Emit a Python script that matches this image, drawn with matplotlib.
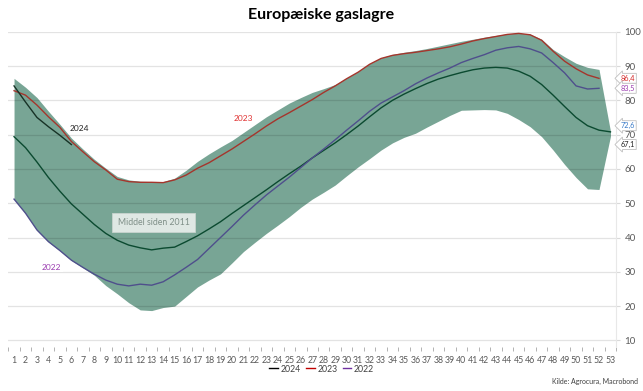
import numpy as np
import matplotlib
matplotlib.use("Agg")
import matplotlib.pyplot as plt

plt.rcParams['font.family'] = ['Lato', 'DejaVu Sans']

weeks = list(range(1, 54))

band_max = [86.4, 83.8, 80.8, 76.8, 73.0, 69.0, 65.8, 62.8, 60.2, 57.8,
            56.8, 56.4, 56.3, 56.3, 57.3, 59.6, 62.2, 64.4, 66.4, 68.3,
            70.6, 72.9, 75.2, 77.2, 79.2, 80.8, 82.3, 83.4, 84.6, 86.5,
            88.4, 90.7, 92.4, 93.4, 94.0, 94.5, 95.1, 95.8, 96.5, 97.2,
            97.8, 98.4, 98.9, 99.4, 99.6, 99.3, 97.8, 94.8, 92.7, 90.8,
            89.6, 89.0, 71.0]
band_min = [51.2, 47.0, 42.1, 38.7, 36.1, 33.3, 31.2, 29.0, 26.0, 23.6,
            21.0, 18.9, 18.7, 19.6, 20.0, 22.8, 25.6, 27.6, 29.4, 32.6,
            35.9, 38.6, 41.2, 43.6, 46.1, 48.8, 51.2, 53.2, 55.3, 58.0,
            60.6, 63.0, 65.5, 67.6, 69.2, 70.4, 72.2, 73.9, 75.6, 77.1,
            77.2, 77.3, 77.2, 76.2, 74.4, 72.3, 69.4, 65.5, 61.3, 57.5,
            54.2, 54.0, 69.5]
middel = [69.4, 66.2, 62.0, 57.5, 53.5, 49.8, 46.8, 43.8, 41.2, 39.2,
          37.8, 37.0, 36.4, 36.9, 37.2, 38.8, 40.5, 42.5, 44.6, 47.0,
          49.3, 51.6, 53.9, 56.3, 58.6, 60.8, 63.2, 65.4, 67.6, 70.0,
          72.5, 75.2, 77.8, 80.0, 81.8, 83.4, 84.9, 86.2, 87.2, 88.1,
          88.9, 89.4, 89.6, 89.4, 88.5, 87.0, 84.6, 81.5, 78.2, 75.0,
          72.6, 71.3, 70.8]
y2024 = [84.2, 79.5, 75.0, 72.3, 69.8, 67.1]
y2023 = [82.8, 81.5, 78.6, 75.2, 72.1, 68.0, 65.0, 62.1, 59.7, 57.0,
         56.3, 56.1, 56.1, 56.0, 56.8, 58.2, 60.2, 61.8, 63.8, 65.8,
         68.0, 70.2, 72.5, 74.6, 76.4, 78.3, 80.2, 82.3, 84.2, 86.3,
         88.2, 90.5, 92.2, 93.1, 93.6, 94.0, 94.5, 95.0, 95.6, 96.4,
         97.3, 98.0, 98.6, 99.2, 99.5, 99.1, 97.5, 94.3, 91.4, 89.2,
         87.4, 86.4]
y2022 = [51.2, 47.1, 42.2, 38.8, 36.2, 33.4, 31.3, 29.3, 27.6, 26.4,
         25.9, 26.4, 26.1, 27.1, 29.1, 31.3, 33.6, 36.8, 40.0, 43.2,
         46.5, 49.5, 52.4, 55.0, 57.6, 60.4, 63.2, 65.8, 68.5, 71.3,
         74.0, 76.8, 79.2, 81.0, 82.8, 84.8, 86.5, 88.0, 89.4, 91.0,
         92.2, 93.3, 94.6, 95.3, 95.7, 95.0, 93.8, 91.0, 88.0, 84.2,
         83.3, 83.5]

end_labels = ['86,4', '83,5', '72,6', '67,1']
end_values = [86.4, 83.5, 72.6, 67.1]
end_colors = ['#d42a2a', '#9a3cb0', '#3a7bc8', '#222222']

fig = plt.figure(figsize=(6.43, 3.91), dpi=100)
ax = fig.add_axes([8.3 / 643, 1 - 347.3 / 391, (616.2 - 8.3) / 643, (347.3 - 31.7) / 391])

ax.fill_between(weeks, band_min, band_max, color='#78a595', lw=0, zorder=1)
ax.plot(weeks, middel, color='#0b4a30', lw=1.0, zorder=3)
ax.plot(weeks[:len(y2022)], y2022, color='#4f4f8c', lw=1.0, zorder=3)
ax.plot(weeks[:len(y2023)], y2023, color='#a5352c', lw=1.0, zorder=4)
ax.plot(weeks[:len(y2024)], y2024, color='#173226', lw=1.0, zorder=5)

# legend proxies
ax.plot([], [], color='black', lw=1.0, label='2024')
ax.plot([], [], color='#c00000', lw=1.0, label='2023')
ax.plot([], [], color='#7030a0', lw=1.0, label='2022')

ax.set_xlim(0.5, 53.5)
ax.set_ylim(8, 100)
ax.set_yticks(range(10, 101, 10))
ax.set_axisbelow('line')
ax.grid(axis='y', color='black', alpha=0.11, lw=0.9)
ax.yaxis.tick_right()
ax.tick_params(axis='y', length=3, color='#d9d9d9', labelcolor='#595959',
               labelsize=7, pad=3)
ax.set_xticks(weeks)
ax.set_xticks(np.arange(0.5, 54, 1), minor=True)
ax.tick_params(axis='x', which='major', length=0, labelsize=6.3,
               labelcolor='#595959', pad=6)
ax.tick_params(axis='x', which='minor', length=3, color='#a6a6a6')
for s in ['top', 'left', 'bottom']:
    ax.spines[s].set_visible(False)
ax.spines['right'].set_color('#e8e8e8')
ax.spines['right'].set_bounds(8, 100)

ax.text(6.67, 71.9, '2024', fontsize=6, color='#222222', ha='center', va='center', zorder=6)
ax.text(20.96, 74.8, '2023', fontsize=6, color='#e03030', ha='center', va='center', zorder=6)
ax.text(4.3, 31.4, '2022', fontsize=6, color='#9a3cb0', ha='center', va='center', zorder=6,
        bbox=dict(boxstyle='square,pad=0.15', fc='white', ec='none'))
ax.text(13.16, 44.4, 'Middel siden 2011', fontsize=6.3, color='#7f8f88',
        ha='center', va='center', zorder=6,
        bbox=dict(boxstyle='square,pad=0.6', fc='#dfe8e4', ec='#c8d4cf', lw=0.6))

for lab, val, col in zip(end_labels, end_values, end_colors):
    ax.annotate(lab, xy=(1.0, val), xycoords=('axes fraction', 'data'),
                xytext=(3, 0), textcoords='offset points', ha='left', va='center',
                fontsize=5.3, color=col, zorder=7, annotation_clip=False,
                bbox=dict(boxstyle='larrow,pad=0.2', fc='white', ec='#bfbfbf', lw=0.6))

fig.text(0.5, 0.962, 'Europæiske gaslagre', ha='center', va='center',
         fontsize=11.5, fontweight='bold')
fig.legend(loc='center', bbox_to_anchor=(0.5, 1 - 369 / 391), ncol=3, frameon=False,
           fontsize=6.3, handlelength=1.0, handletextpad=0.3, columnspacing=0.6,
           labelcolor='#404040')
fig.text(0.992, 1 - 381 / 391, 'Kilde: Agrocura, Macrobond', ha='right', va='center',
         fontsize=5, color='#404040')

fig.savefig('out.png', dpi=100)
